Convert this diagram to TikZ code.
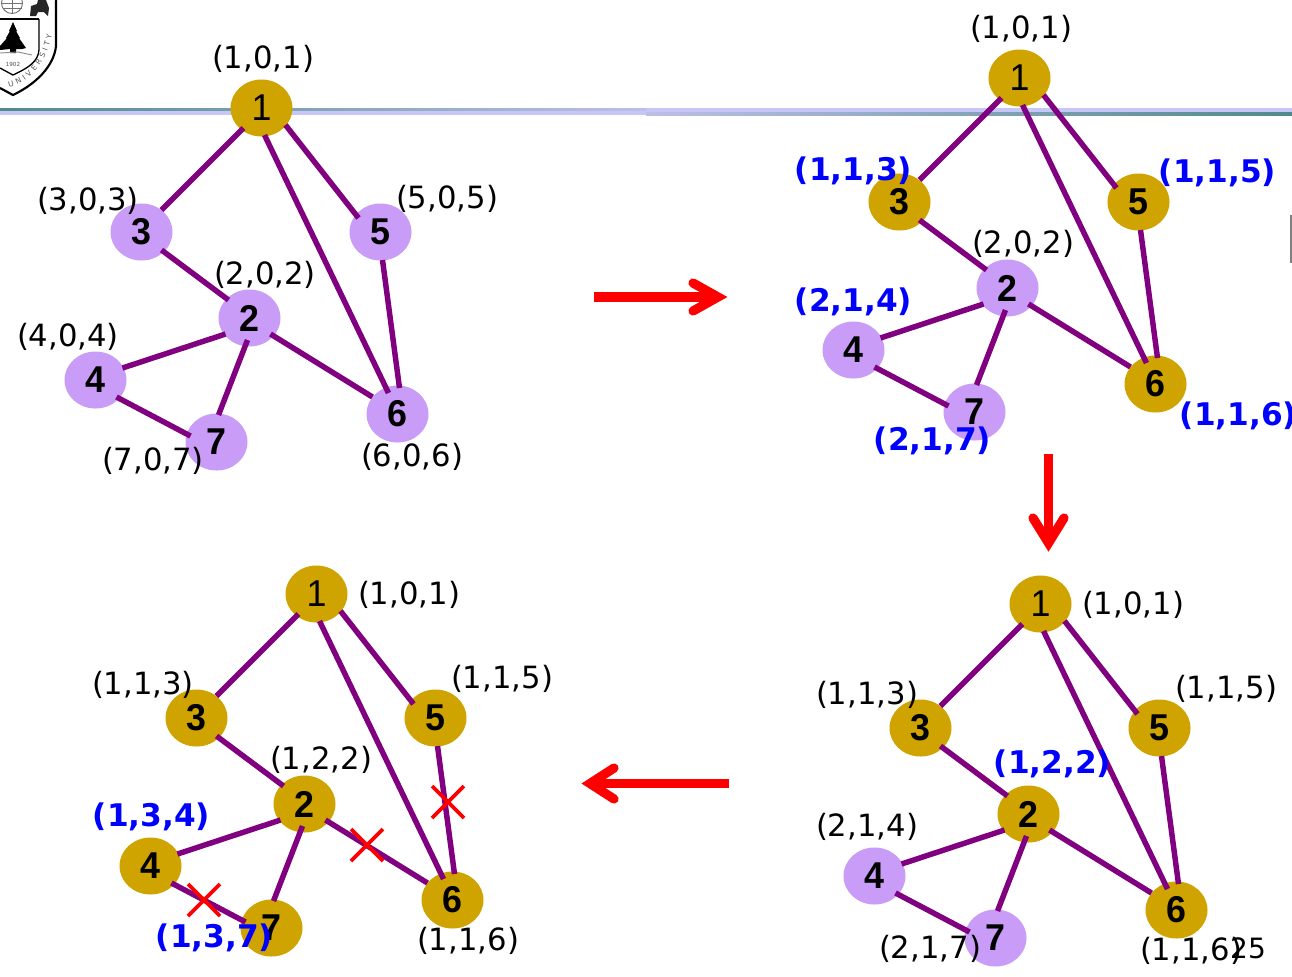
\documentclass[tikz,border=0pt]{standalone}
\usepackage{fontspec}
\usetikzlibrary{calc,arrows.meta,shapes.geometric,decorations.text}
\setmainfont{DejaVu Sans}
\newfontfamily\digitfont{Liberation Sans}
\definecolor{gold}{HTML}{D0A400}
\definecolor{lilac}{HTML}{C89CF7}
\definecolor{edgepurple}{HTML}{800080}
\definecolor{rulelav}{HTML}{C6C6F8}
\definecolor{rulemid}{HTML}{BCBFE8}
\definecolor{ruleteal}{HTML}{4F8A8B}
\tikzset{
  x=0.75pt,y=-0.75pt,
  vertex/.style={ellipse,minimum width=46.5pt,minimum height=42.75pt,inner sep=0pt,fill=#1,
    font=\digitfont\bfseries\fontsize{28}{28}\selectfont},
  edge/.style={edgepurple,line width=4.1pt},
  plain/.style={font=\fontsize{23}{23}\selectfont,inner sep=0pt},
  fresh/.style={font=\bfseries\fontsize{23.4}{23.4}\selectfont,text=blue,inner sep=0pt},
  redarrow/.style={red,line width=6.9pt,line join=miter,miter limit=10},
  redhead/.style={redarrow,line cap=round},
  cross/.style={red,line width=2.8pt},
}
% The root vertex carries a lighter numeral than the others
\newcommand{\vertexnum}[1]{\ifnum#1=1 \mdseries\fi\scalebox{0.96}[1]{#1}}
% One copy of the graph: #1 name prefix, #2 #3 offset, #4 vertices as number/x/y/fill
\newcommand{\graphnet}[4]{%
  \def\pre{#1}\def\ox{#2}\def\oy{#3}%
  \foreach \idx/\px/\py/\col in {#4} {
    \node[vertex=\col] (\pre\idx) at (\px+\ox+0.5,\py+\oy) {\vertexnum{\idx}};
  }
  \foreach \a/\adx/\ady/\b/\bdx/\bdy in {
    1/-18/20/3/20/-22, 1/24/17/5/-22/-14, 1/3/27/6/-9/-21,
    3/20/18/2/-21/-18, 2/-24/16/4/27/-12, 2/-2/22/7/2/-27,
    2/21/16/6/-25/-17, 5/2/28/6/2/-26, 4/21/17/7/-26/-6} {
    \draw[edge] ($(\pre\a)+(\adx,\ady)$) -- ($(\pre\b)+(\bdx,\bdy)$);
  }
}
\begin{document}
\begin{tikzpicture}
\useasboundingbox (0,0) rectangle (1292,976);
\fill[white] (0,0) rectangle (1292,976);

% header rule, its dark edge changing sides across the page
\fill[rulelav] (0,108) rectangle (1292,115);
\shade[left color=ruleteal,right color=rulemid] (0,108) rectangle (646,110.5);
\shade[left color=rulemid,right color=ruleteal] (646,112.5) rectangle (1292,115);

% crest
\begin{scope}
\clip (0,0) rectangle (60,100);
\draw[line width=1.6pt] (56,0) -- (56,46) .. controls (54,66) and (36,84) .. (13,95) -- (0,88);
\draw[line width=1pt] (39,19) -- (39,50) .. controls (38,62) and (28,68) .. (13,75) -- (0,68);
\draw[line width=1pt] (0,19) -- (39,19);
\fill (13,22) -- (17,31) -- (16,31) -- (20,38) -- (19,38) -- (26,48) -- (22,49) -- (16,49) -- (16,53) -- (10,53) -- (10,49) -- (0,50) -- (0,46) -- (7,38) -- (6,38) -- (10,31) -- (9,31) -- cycle;
\draw[line width=0.7pt,black!45] (0,53) -- (18,52) -- (32,55);
\draw[black!55,line width=0.7pt] (12,3) circle (10.5);
\draw[black!55,line width=0.6pt] (1.5,3) -- (22.5,3) (2.5,8) -- (21.5,8) (12,0) -- (12,13.5);
\fill[black!85] (30,16) -- (31,6) -- (37,4) -- (38,0) -- (46,0) -- (49,8) -- (48,16) -- (44,12) -- (38,12) -- (36,16) -- cycle;
\end{scope}
\node[inner sep=0pt,text=black!70,font=\fontsize{4.2}{5}\selectfont] (crestyear) at (13,64) {1902};
\path[decorate,decoration={text along path,text align={fit to path},
  text={|\fontsize{5.6}{6}\selectfont\color{black!65}|UNIVERSITY}}]
  (9,87) .. controls (30,82) and (47,62) .. (52,35);

% graph copies
\graphnet{a}{0}{0}{1/261/108/gold,3/141/232/lilac,5/380/232/lilac,2/249/318/lilac,4/95/380/lilac,7/216/442/lilac,6/397/414/lilac}
\graphnet{b}{758}{-30}{1/261/108/gold,3/141/232/gold,5/380/232/gold,2/249/318/lilac,4/95/380/lilac,7/216/442/lilac,6/397/414/gold}
\graphnet{c}{779}{496}{1/261/108/gold,3/141/232/gold,5/380/232/gold,2/249/318/gold,4/95/380/lilac,7/216/442/lilac,6/397/414/gold}
\graphnet{d}{55}{486}{1/261/108/gold,3/141/232/gold,5/380/232/gold,2/249/318/gold,4/95/380/gold,7/216/442/gold,6/397/414/gold}

% labels of the first state
\node[plain] (la1) at (263,59) {(1,0,1)};
\node[plain] (la3) at (88,201) {(3,0,3)};
\node[plain] (la5) at (447,199) {(5,0,5)};
\node[plain] (la2) at (265,275) {(2,0,2)};
\node[plain] (la4) at (68,337) {(4,0,4)};
\node[plain] (la7) at (153,461) {(7,0,7)};
\node[plain] (la6) at (412,457) {(6,0,6)};

% labels of the second state
\node[plain] (lb1) at (1021,29) {(1,0,1)};
\node[plain] (lb2) at (1023,244) {(2,0,2)};
\node[fresh] (lb3) at (853.5,171) {(1,1,3)};
\node[fresh] (lb5) at (1217.5,173) {(1,1,5)};
\node[fresh] (lb4) at (853.5,302) {(2,1,4)};
\node[fresh] (lb7) at (932.5,441) {(2,1,7)};
\node[fresh] (lb6) at (1238.5,416) {(1,1,6)};

% labels of the third state
\node[plain] (lc1) at (1133,605) {(1,0,1)};
\node[plain] (lc3) at (867,695) {(1,1,3)};
\node[plain] (lc5) at (1226,689) {(1,1,5)};
\node[fresh] (lc2) at (1052.5,764) {(1,2,2)};
\node[plain] (lc4) at (867,827) {(2,1,4)};
\node[plain] (lc7) at (930,949) {(2,1,7)};
\node[plain] (lc6) at (1191,951) {(1,1,6)};

% labels of the fourth state
\node[plain] (ld1) at (409,595) {(1,0,1)};
\node[plain] (ld3) at (143,685) {(1,1,3)};
\node[plain] (ld5) at (502,679) {(1,1,5)};
\node[plain] (ld2) at (321,760) {(1,2,2)};
\node[fresh] (ld4) at (151.5,817) {(1,3,4)};
\node[fresh] (ld7) at (214.5,938) {(1,3,7)};
\node[plain] (ld6) at (468,941) {(1,1,6)};

% page number
\node[inner sep=0pt,font=\fontsize{21}{21}\selectfont] (pageno) at (1248,948) {25};

% edges that are pruned
\coordinate (x1) at (448,802);
\coordinate (x2) at (367,845);
\coordinate (x3) at (204,900);
\foreach \c in {x1,x2,x3}
  \draw[cross] ($(\c)+(-16,-16)$) -- ($(\c)+(16,16)$) ($(\c)+(16,-16)$) -- ($(\c)+(-16,16)$);

% transitions between states
\coordinate (t1s) at (594,297);
\coordinate (t1v) at (718,297);
\draw[redarrow] (t1s) -- (t1v);
\draw[redhead] (693,283) -- (t1v) -- (693,311);
\coordinate (t2s) at (1048.5,454);
\coordinate (t2v) at (1048.5,543);
\draw[redarrow] (t2s) -- (t2v);
\draw[redhead] (1033,518) -- (t2v) -- (1064,518);
\coordinate (t3s) at (729,783.5);
\coordinate (t3v) at (590,783.5);
\draw[redarrow] (t3s) -- (t3v);
\draw[redhead] (614,768) -- (t3v) -- (614,799);

% sliver of a tab on the far edge
\fill[black!50] (1290,215) rectangle (1292,263);
\end{tikzpicture}
\end{document}
